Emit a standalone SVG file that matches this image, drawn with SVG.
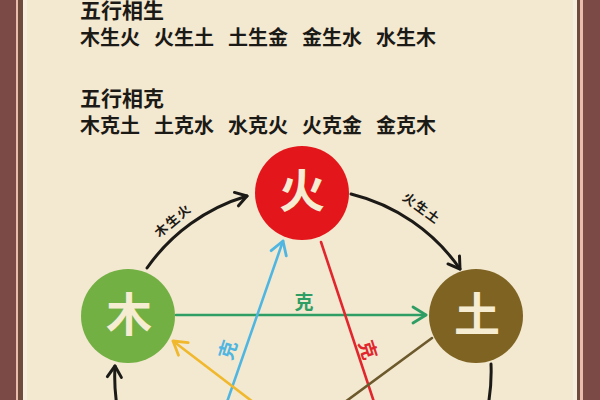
<svg xmlns="http://www.w3.org/2000/svg" width="600" height="400" viewBox="0 0 600 400">
<style>
.t{font-family:"Noto Sans CJK SC","Noto Sans CJK JP",sans-serif;font-weight:700}
.hd{font-size:21px;fill:#1c1a17}
.ln{font-size:20px;fill:#1c1a17}
.nd{font-size:46px;fill:#f6ecd2;text-anchor:middle}
.arcl{font-size:13px;fill:#1c1a17;text-anchor:middle;letter-spacing:1.5px}
.ke{font-size:19px;text-anchor:middle}
.arc{fill:none;stroke:#1c1a17;stroke-width:3;stroke-linecap:round}
.k{fill:none;stroke-width:2.6;stroke-linecap:round}
</style>
<defs>
<marker id="ahB" viewBox="-14 -10 16 20" refX="0" refY="0" markerWidth="16" markerHeight="20" markerUnits="userSpaceOnUse" orient="auto"><path d="M-11 -7 L0 0 L-11 7" fill="none" stroke="#1c1a17" stroke-width="3" stroke-linecap="round" stroke-linejoin="round"/></marker>
<marker id="ahG" viewBox="-16 -10 18 20" refX="0" refY="0" markerWidth="18" markerHeight="20" markerUnits="userSpaceOnUse" orient="auto"><path d="M-13 -8 L0 0 L-13 8" fill="none" stroke="#2f9e64" stroke-width="2.8" stroke-linecap="round" stroke-linejoin="round"/></marker>
<marker id="ahC" viewBox="-16 -10 18 20" refX="0" refY="0" markerWidth="18" markerHeight="20" markerUnits="userSpaceOnUse" orient="auto"><path d="M-13 -8 L0 0 L-13 8" fill="none" stroke="#4fb6e2" stroke-width="2.8" stroke-linecap="round" stroke-linejoin="round"/></marker>
<marker id="ahY" viewBox="-16 -10 18 20" refX="0" refY="0" markerWidth="18" markerHeight="20" markerUnits="userSpaceOnUse" orient="auto"><path d="M-13 -8 L0 0 L-13 8" fill="none" stroke="#f0b82c" stroke-width="2.8" stroke-linecap="round" stroke-linejoin="round"/></marker>
</defs>
<!-- frame -->
<rect x="0" y="0" width="600" height="400" fill="#7b4a46"/>
<rect x="16" y="0" width="567" height="400" fill="#e9bcae"/>
<rect x="18" y="0" width="562" height="400" fill="#6f4b3e"/>
<rect x="23" y="0" width="554" height="400" fill="#f7efdd"/>
<rect x="27" y="0" width="546" height="400" fill="#f3e8d0"/>
<!-- text -->
<g id="text">
<text class="t hd" x="80" y="18">五行相生</text>
<text class="t ln" x="80" y="45">木生火</text>
<text class="t ln" x="154" y="45">火生土</text>
<text class="t ln" x="228" y="45">土生金</text>
<text class="t ln" x="302" y="45">金生水</text>
<text class="t ln" x="376" y="45">水生木</text>
<text class="t hd" x="80" y="106">五行相克</text>
<text class="t ln" x="80" y="133">木克土</text>
<text class="t ln" x="154" y="133">土克水</text>
<text class="t ln" x="228" y="133">水克火</text>
<text class="t ln" x="302" y="133">火克金</text>
<text class="t ln" x="376" y="133">金克木</text>
</g>
<!-- connectors -->
<g id="connectors">
<path class="arc" d="M147 268 A187 187 0 0 1 247 196" marker-end="url(#ahB)"/>
<path class="arc" d="M351 194 A187 187 0 0 1 460 269" marker-end="url(#ahB)"/>
<path class="arc" d="M491 364 A187 187 0 0 1 488 406"/>
<path class="arc" d="M117 406 A187 187 0 0 1 115 366" marker-end="url(#ahB)"/>
<line class="k" x1="176" y1="315" x2="426" y2="315" stroke="#2f9e64" marker-end="url(#ahG)"/>
<line class="k" x1="227" y1="402" x2="283" y2="241" stroke="#4fb6e2" marker-end="url(#ahC)"/>
<line class="k" x1="321" y1="242" x2="374" y2="402" stroke="#e2262d"/>
<line class="k" x1="253" y1="402" x2="173" y2="341" stroke="#f0b82c" marker-end="url(#ahY)"/>
<line class="k" x1="432" y1="338" x2="345" y2="402" stroke="#6d5a2c"/>
<text class="t arcl" transform="translate(176,224) rotate(-40)">木生火</text>
<text class="t arcl" transform="translate(419,212) rotate(36)">火生土</text>
<text class="t ke" x="304" y="309" fill="#2f9e64">克</text>
<text class="t ke" transform="translate(234.5,352) rotate(-72)" fill="#4fb6e2">克</text>
<text class="t ke" transform="translate(361.5,352) rotate(72)" fill="#e2262d">克</text>
</g>
<g id="node-huo">
<circle cx="302" cy="193" r="47" fill="#e3161b"/>
<text class="t nd" x="302" y="207">火</text>
</g>
<g id="node-mu">
<circle cx="128" cy="316" r="47" fill="#72b043"/>
<text class="t nd" x="129" y="331">木</text>
</g>
<g id="node-tu">
<circle cx="476" cy="316" r="47" fill="#7e6322"/>
<text class="t nd" x="477" y="331">土</text>
</g>
</svg>
